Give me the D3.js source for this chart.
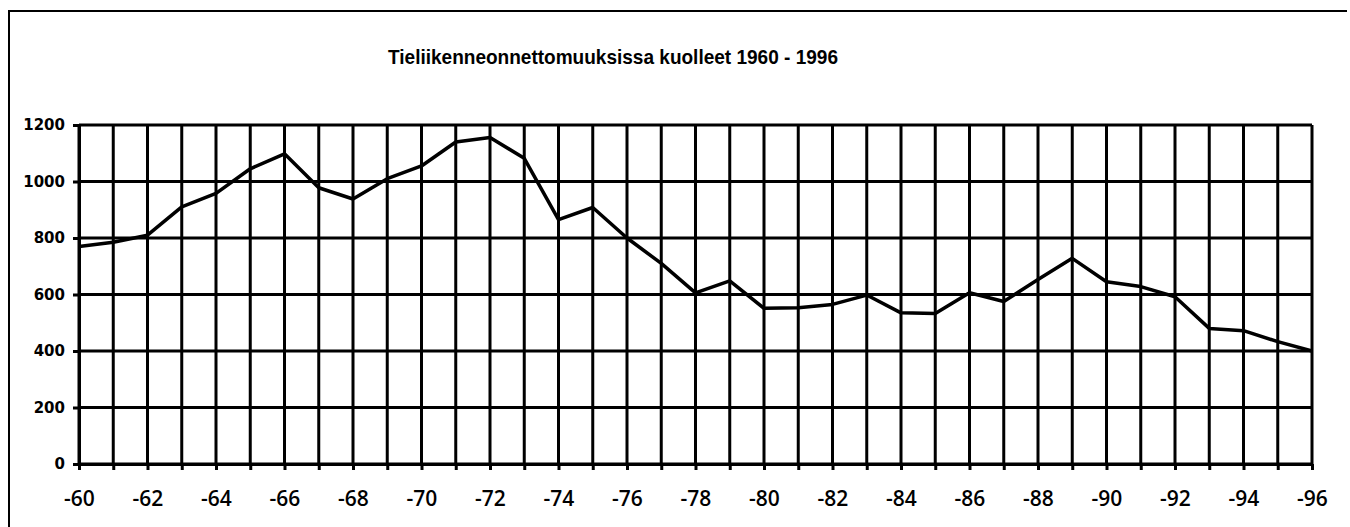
<!DOCTYPE html>
<html>
<head>
<meta charset="utf-8">
<script src="https://cdn.jsdelivr.net/npm/d3@7"></script>
<style>
  body { margin: 0; background: #fff; overflow: hidden; }
  #title { font-family: 'Liberation Sans', Arial, sans-serif; font-weight: bold; font-size: 21px; }
  #y-axis text { font-family: 'DejaVu Sans', sans-serif; font-weight: bold; font-size: 15px; }
  #x-axis text { font-family: 'Open Sans', sans-serif; font-weight: 600; font-size: 21px; }
</style>
</head>
<body>
<div id="chart-container"></div>
<script>
// data
const years = [1960, 1961, 1962, 1963, 1964, 1965, 1966, 1967, 1968, 1969,
               1970, 1971, 1972, 1973, 1974, 1975, 1976, 1977, 1978, 1979,
               1980, 1981, 1982, 1983, 1984, 1985, 1986, 1987, 1988, 1989,
               1990, 1991, 1992, 1993, 1994, 1995, 1996];
const deaths = [770, 785, 810, 910, 958, 1045, 1098, 978, 938, 1010,
                1055, 1140, 1156, 1082, 865, 908, 800, 710, 606, 648,
                551, 553, 565, 598, 535, 533, 606, 575, 653, 728,
                645, 628, 592, 480, 472, 433, 400];
const yTicks = [0, 200, 400, 600, 800, 1000, 1200];
const xTickLabels = ['-60', '-62', '-64', '-66', '-68', '-70', '-72', '-74', '-76', '-78',
                     '-80', '-82', '-84', '-86', '-88', '-90', '-92', '-94', '-96'];
const chartTitle = 'Tieliikenneonnettomuuksissa kuolleet 1960 - 1996';

const svgCanvas = {width: 1350, height: 527};
const chartPadding = {top: 125, right: 38, bottom: 63, left: 79};
const innerWidth = svgCanvas.width - chartPadding.left - chartPadding.right;
const innerHeight = svgCanvas.height - chartPadding.top - chartPadding.bottom;

const xScale = d3.scaleLinear()
            .domain([years[0], years[years.length - 1]])
            .range([0, innerWidth]);
const yScale = d3.scaleLinear()
            .domain([0, 1200])
            .range([innerHeight, 0]);

const svg = d3.select('#chart-container')
        .append('svg')
        .attr('width', svgCanvas.width)
        .attr('height', svgCanvas.height)
        .style('display', 'block');

svg.append('rect')
    .attr('width', svgCanvas.width)
    .attr('height', svgCanvas.height)
    .attr('fill', '#fff');

// frame (right side is cut off in the scan)
svg.append('path')
    .attr('d', 'M9,527 L9,11 L1347,11')
    .attr('fill', 'none')
    .attr('stroke', '#000')
    .attr('stroke-width', 2);

svg.append('text')
    .attr('id', 'title')
    .attr('x', 388)
    .attr('y', 64)
    .attr('textLength', 450)
    .attr('lengthAdjust', 'spacingAndGlyphs')
    .text(chartTitle);

const chartGroup = svg.append('g')
        .attr('transform', `translate(${chartPadding.left}, ${chartPadding.top})`);

// grid
chartGroup.append('g')
    .selectAll('line')
    .data(yTicks)
    .enter()
    .append('line')
    .attr('x1', 0)
    .attr('x2', innerWidth)
    .attr('y1', d => yScale(d))
    .attr('y2', d => yScale(d))
    .attr('stroke', '#000')
    .attr('stroke-width', 3);

chartGroup.append('g')
    .selectAll('line')
    .data(years)
    .enter()
    .append('line')
    .attr('x1', d => xScale(d))
    .attr('x2', d => xScale(d))
    .attr('y1', 0)
    .attr('y2', innerHeight)
    .attr('stroke', '#000')
    .attr('stroke-width', 3);

// axes
const yAxisGenerator = d3.axisLeft(yScale)
        .tickValues(yTicks)
        .tickFormat(d3.format('d'))
        .tickSize(6)
        .tickSizeOuter(0)
        .tickPadding(8);
const xAxisGenerator = d3.axisBottom(xScale)
        .tickValues(years)
        .tickSize(6)
        .tickSizeOuter(0)
        .tickPadding(21)
        .tickFormat((d, i) => i % 2 === 0 ? xTickLabels[i / 2] : '');

const yAxis = chartGroup.append('g')
        .attr('id', 'y-axis')
        .call(yAxisGenerator);
const xAxis = chartGroup.append('g')
        .attr('id', 'x-axis')
        .attr('transform', `translate(0, ${innerHeight})`)
        .call(xAxisGenerator);

// only every other year carries a label
xAxis.selectAll('text').filter(function() { return this.textContent === ''; }).remove();

[yAxis, xAxis].forEach(ax => {
    ax.selectAll('path, line').attr('stroke', '#000').attr('stroke-width', 3);
    ax.selectAll('text').attr('fill', '#000');
});

// data line
const lineGenerator = d3.line()
        .x((d, i) => xScale(years[i]))
        .y(d => yScale(d));

chartGroup.append('path')
    .datum(deaths)
    .attr('d', lineGenerator)
    .attr('fill', 'none')
    .attr('stroke', '#000')
    .attr('stroke-width', 3.5)
    .attr('stroke-linejoin', 'round');
</script>
</body>
</html>
